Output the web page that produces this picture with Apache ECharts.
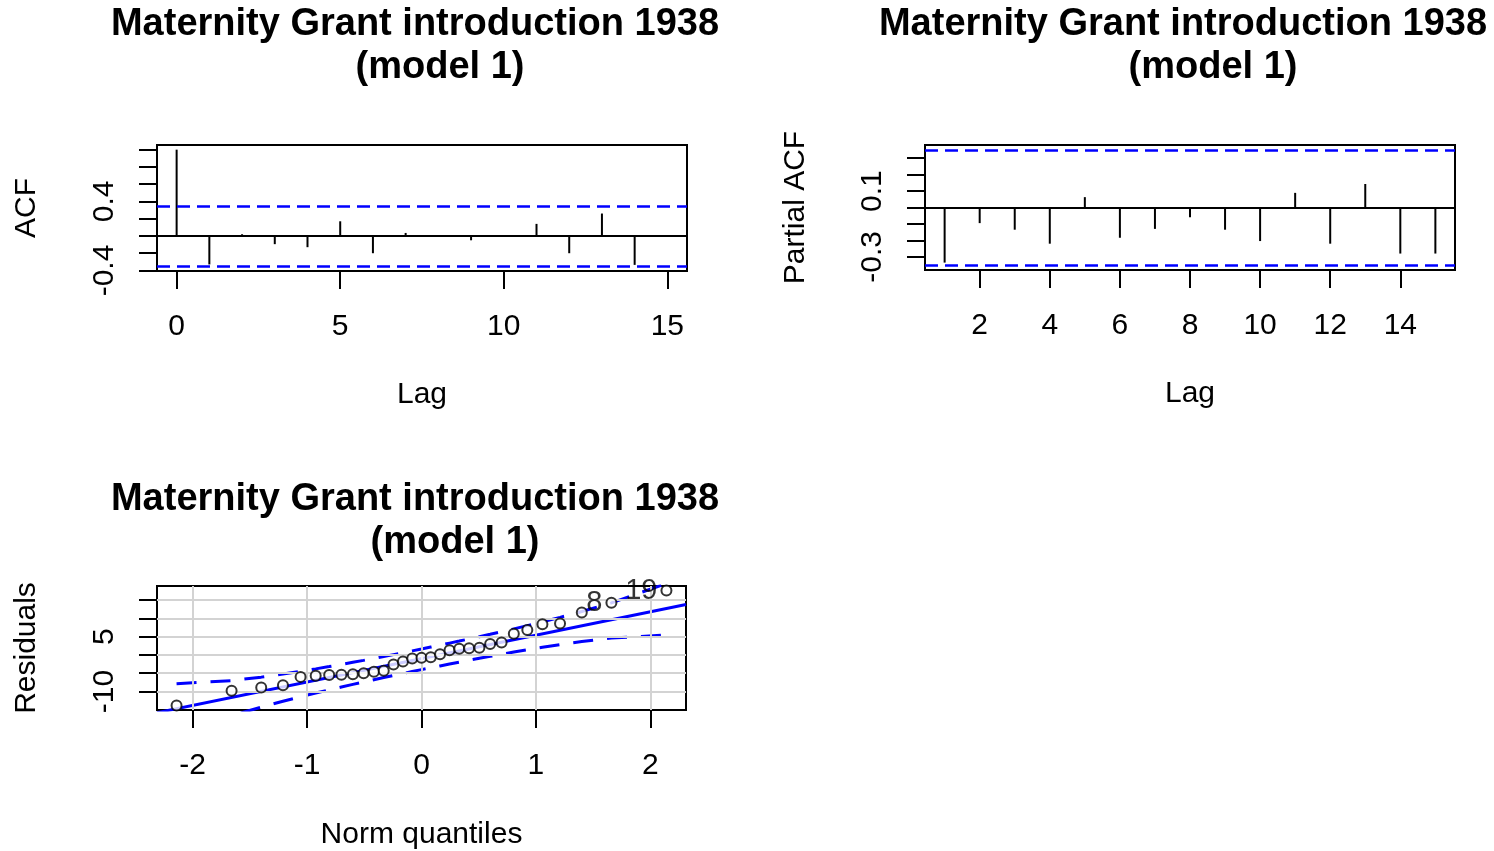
<!DOCTYPE html>
<html><head><meta charset="utf-8">
<script src="https://cdn.jsdelivr.net/npm/echarts@6/dist/echarts.min.js"></script>
<style>html,body{margin:0;padding:0;background:#fff}#c{width:1494px;height:851px}</style>
</head><body><div id="c"></div>
<script>
// ---------- DATA ----------
const titleLine1 = 'Maternity Grant introduction 1938';
const titleLine2 = '(model 1)';

// ACF panel
const acfLags   = [0, 1, 2, 3, 4, 5, 6, 7, 8, 9, 10, 11, 12, 13, 14, 15];
const acfValues = [1.0, -0.33, 0.02, -0.095, -0.13, 0.17, -0.20, 0.035, 0.005, -0.05, -0.005, 0.14, -0.20, 0.26, -0.335, 0.003];
const acfCI = 0.352;
const acfXTicks = [0, 5, 10, 15];
const acfYTicks = [-0.4, -0.2, 0, 0.2, 0.4, 0.6, 0.8, 1.0];
const acfYLabels = [-0.4, 0.4];

// PACF panel
const pacfLags   = [1, 2, 3, 4, 5, 6, 7, 8, 9, 10, 11, 12, 13, 14, 15];
const pacfValues = [-0.335, -0.095, -0.135, -0.22, 0.063, -0.184, -0.13, -0.059, -0.135, -0.204, 0.089, -0.22, 0.143, -0.28, -0.28];
const pacfCI = 0.352;
const pacfXTicks = [2, 4, 6, 8, 10, 12, 14];
const pacfYTicks = [-0.3, -0.2, -0.1, 0, 0.1, 0.2, 0.3];
const pacfYLabels = [-0.3, 0.1];

// QQ panel
const qqTheoretical = [-2.141, -1.660, -1.401, -1.211, -1.057, -0.925, -0.807, -0.700, -0.600, -0.506, -0.416, -0.330, -0.245, -0.162, -0.081, 0,
                        0.081, 0.162, 0.245, 0.330, 0.416, 0.506, 0.600, 0.700, 0.807, 0.925, 1.057, 1.211, 1.401, 1.660, 2.141];
const qqResiduals = [-13.8, -9.8, -8.9, -8.3, -6.0, -5.7, -5.5, -5.4, -5.3, -5.0, -4.6, -4.3, -2.6, -1.8, -1.0, -0.8,
                      -0.6, 0.2, 1.3, 1.7, 1.8, 2.0, 3.0, 3.4, 5.8, 6.8, 8.4, 8.6, 11.6, 14.3, 17.6];
const qqUpper = [-7.86, -7.01, -6.07, -5.23, -4.48, -3.81, -3.18, -2.59, -2.02, -1.48, -0.95, -0.43, 0.09, 0.60, 1.11, 1.62,
                  2.15, 2.68, 3.23, 3.79, 4.37, 5.00, 5.66, 6.37, 7.14, 8.03, 9.04, 10.27, 11.87, 14.23, 19.54];
const qqLower = [-21.94, -16.63, -14.27, -12.67, -11.44, -10.43, -9.54, -8.77, -8.06, -7.40, -6.77, -6.19, -5.63, -5.08, -4.55, -4.02,
                  -3.51, -3.00, -2.49, -1.97, -1.45, -0.92, -0.38, 0.19, 0.78, 1.41, 2.08, 2.83, 3.67, 4.61, 5.46];
const qqLineIntercept = -1.0;
const qqLineSlope = 6.4;
const qqLabelIndex = [29, 30];
const qqLabelText = ['8', '19'];
const qqXTicks = [-2, -1, 0, 1, 2];
const qqYTicks = [-10, -5, 0, 5, 10, 15];
const qqYLabels = [-10, 5];

// ---------- CHART ----------
const FONT = '"Liberation Sans", Arial, sans-serif';
const BLUE = '#0000FF';
const AX = 30;

function valueAxis(idx, min, max, ticks, labels, name, nameGap, labelMargin, isY) {
  return {
    type: 'value', gridIndex: idx, min: min, max: max,
    name: name, nameLocation: 'middle', nameGap: nameGap,
    nameTextStyle: { fontFamily: FONT, fontSize: AX, color: '#000' },
    axisLine: { show: false, onZero: false },
    axisTick: { show: true, length: 18, customValues: ticks, lineStyle: { color: '#000', width: 2 } },
    axisLabel: { show: true, customValues: labels, fontFamily: FONT, fontSize: AX, color: '#000',
                 margin: labelMargin, rotate: isY ? 90 : 0 },
    splitLine: { show: false }
  };
}

const gridStyle = { show: true, borderColor: '#000', borderWidth: 2, backgroundColor: 'transparent', containLabel: false };

const ml = (v, color, type, width) => ({ yAxis: v, lineStyle: { color: color, type: type, width: width } });

const qqXmin = -2.312, qqXmax = 2.312;

const qqPoints = qqTheoretical.map((q, i) => {
  const item = { value: [q, qqResiduals[i]] };
  const k = qqLabelIndex.indexOf(i);
  if (k >= 0) {
    item.label = { show: true, formatter: qqLabelText[k], position: 'left', distance: 3,
                   fontFamily: FONT, fontSize: 29, color: '#000' };
  }
  return item;
});

const qqGridLines = qqXTicks.map(v => ({ xAxis: v })).concat(qqYTicks.map(v => ({ yAxis: v })));

function titleTexts(cx1, cx2, y1) {
  return [
    { type: 'text', x: cx1, y: y1, style: { text: titleLine1, align: 'center', verticalAlign: 'middle',
      fontFamily: FONT, fontSize: 38, fontWeight: 'bold', fill: '#000' } },
    { type: 'text', x: cx2, y: y1 + 43, style: { text: titleLine2, align: 'center', verticalAlign: 'middle',
      fontFamily: FONT, fontSize: 38, fontWeight: 'bold', fill: '#000' } }
  ];
}

const option = {
  animation: false,
  backgroundColor: '#fff',
  graphic: [].concat(titleTexts(415, 440, 25), titleTexts(1183, 1213, 25), titleTexts(415, 455, 500)),
  grid: [
    Object.assign({ left: 157, top: 145, width: 530, height: 126 }, gridStyle),
    Object.assign({ left: 925, top: 145, width: 530, height: 125 }, gridStyle),
    Object.assign({ left: 157, top: 586, width: 529, height: 128 }, gridStyle)
  ],
  xAxis: [
    valueAxis(0, -0.6, 15.6, acfXTicks, acfXTicks, 'Lag', 109, 41, false),
    valueAxis(1, 0.44, 15.56, pacfXTicks, pacfXTicks, 'Lag', 109, 41, false),
    valueAxis(2, qqXmin, qqXmax, qqXTicks, qqXTicks, 'Norm quantiles', 110, 41, false)
  ],
  yAxis: [
    valueAxis(0, -0.406, 1.054, acfYTicks, acfYLabels, 'ACF', 115, 37, true),
    valueAxis(1, -0.380, 0.380, pacfYTicks, pacfYLabels, 'Partial ACF', 114, 37, true),
    valueAxis(2, -15.06, 18.86, qqYTicks, qqYLabels, 'Residuals', 115, 37, true)
  ],
  series: [
    {
      type: 'bar', xAxisIndex: 0, yAxisIndex: 0, barWidth: 2,
      itemStyle: { color: '#000' },
      data: acfLags.map((l, i) => [l, acfValues[i]]),
      markLine: { silent: true, symbol: 'none', label: { show: false }, animation: false,
        data: [ml(0, '#000', 'solid', 2), ml(acfCI, BLUE, [13, 7], 2.5), ml(-acfCI, BLUE, [13, 7], 2.5)] }
    },
    {
      type: 'bar', xAxisIndex: 1, yAxisIndex: 1, barWidth: 2,
      itemStyle: { color: '#000' },
      data: pacfLags.map((l, i) => [l, pacfValues[i]]),
      markLine: { silent: true, symbol: 'none', label: { show: false }, animation: false,
        data: [ml(0, '#000', 'solid', 2), ml(pacfCI, BLUE, [13, 7], 2.5), ml(-pacfCI, BLUE, [13, 7], 2.5)] }
    },
    {
      type: 'line', xAxisIndex: 2, yAxisIndex: 2, z: 1, data: [],
      markLine: { silent: true, symbol: 'none', label: { show: false }, animation: false,
        lineStyle: { color: '#D3D3D3', type: 'solid', width: 2 }, data: qqGridLines }
    },
    {
      type: 'line', xAxisIndex: 2, yAxisIndex: 2, z: 3, showSymbol: false, symbol: 'none',
      lineStyle: { color: BLUE, width: 3 },
      data: [[qqXmin, qqLineIntercept + qqLineSlope * qqXmin], [qqXmax, qqLineIntercept + qqLineSlope * qqXmax]]
    },
    {
      type: 'line', xAxisIndex: 2, yAxisIndex: 2, z: 3, showSymbol: false, symbol: 'none',
      lineStyle: { color: BLUE, width: 3, type: [20, 14] },
      data: qqTheoretical.map((q, i) => [q, qqUpper[i]])
    },
    {
      type: 'line', xAxisIndex: 2, yAxisIndex: 2, z: 3, showSymbol: false, symbol: 'none',
      lineStyle: { color: BLUE, width: 3, type: [20, 14] },
      data: qqTheoretical.map((q, i) => [q, qqLower[i]])
    },
    {
      type: 'scatter', xAxisIndex: 2, yAxisIndex: 2, z: 5,
      symbol: 'emptyCircle', symbolSize: 10,
      itemStyle: { color: '#000', borderColor: '#000', borderWidth: 2 },
      data: qqPoints
    }
  ]
};

const chart = echarts.init(document.getElementById('c'), null, { renderer: 'canvas' });
chart.setOption(option);
</script>
</body></html>
